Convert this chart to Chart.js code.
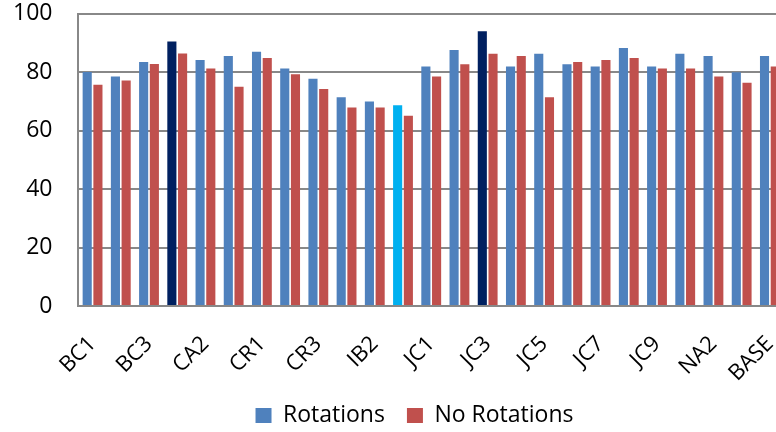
<!DOCTYPE html>
<html>
<head>
<meta charset="utf-8">
<script src="https://cdn.jsdelivr.net/npm/chart.js@4.4.1/dist/chart.umd.min.js"></script>
<style>
  html, body { margin: 0; padding: 0; background: #fff; overflow: hidden; }
  canvas { display: block; }
</style>
</head>
<body>
<canvas id="chart1" width="800" height="437"></canvas>
<script>
// categories (only every other one is labelled on the axis)
const categorias = ['BC1', 'BC2', 'BC3', 'CA1', 'CA2', 'CA3', 'CR1', 'CR2', 'CR3',
    'IB1', 'IB2', 'IB3', 'JC1', 'JC2', 'JC3', 'JC4', 'JC5', 'JC6', 'JC7', 'JC8', 'JC9',
    'NA1', 'NA2', 'NA3', 'BASE'];

const rotations = [80.1, 78.5, 83.5, 90.5, 84.2, 85.6, 87.0, 81.3, 77.8,
    71.4, 70.0, 68.7, 82.0, 87.6, 94.0, 82.0, 86.3, 82.7, 82.0, 88.3, 82.0,
    86.3, 85.6, 80.0, 85.6];

const noRotations = [75.7, 77.2, 82.8, 86.4, 81.3, 75.0, 84.9, 79.3, 74.3,
    67.9, 67.9, 65.1, 78.5, 82.7, 86.3, 85.6, 71.4, 83.5, 84.2, 84.9, 81.3,
    81.3, 78.5, 76.4, 82.0];

const yTicks = [0, 20, 40, 60, 80, 100];

// bars drawn in a different colour
const destaque = { CA1: '#002060', JC3: '#002060', IB3: '#00B0F0' };
const corAzul = '#4F81BD';
const corVermelho = '#C0504D';
const fonte = "'Open Sans', sans-serif";
const padTicks = 26;

// nudges the legend to the right, it is centred on the wider original chart
const moverLegenda = {
    id: 'moverLegenda',
    afterLayout(chart) {
        chart.legend.left += 16;
        chart.legend.right += 16;
    }
};

var ctx1 = document.getElementById('chart1').getContext('2d');
var chart1 = new Chart(ctx1, {
    type: 'bar',
    data: {
        labels: categorias,
        datasets: [{
            label: 'Rotations',
            data: rotations,
            backgroundColor: categorias.map(c => destaque[c] || corAzul),
            barPercentage: 0.85,
            categoryPercentage: 0.76
        }, {
            label: 'No Rotations',
            data: noRotations,
            backgroundColor: corVermelho,
            barPercentage: 0.85,
            categoryPercentage: 0.76
        }]
    },
    options: {
        responsive: false,
        animation: false,
        layout: { padding: { left: 13, top: 1, right: 16, bottom: 0 } },
        plugins: {
            legend: {
                position: 'bottom',
                labels: {
                    generateLabels: chart => chart.data.datasets.map((ds, i) => ({
                        text: ds.label,
                        fillStyle: i === 0 ? corAzul : corVermelho,
                        strokeStyle: i === 0 ? corAzul : corVermelho,
                        lineWidth: 0,
                        datasetIndex: i
                    })),
                    boxWidth: 16,
                    boxHeight: 15,
                    padding: 22,
                    color: '#000',
                    font: { family: fonte, size: 23 }
                }
            },
            tooltip: { enabled: false }
        },
        scales: {
            x: {
                grid: { display: false, drawTicks: false },
                border: { display: true, color: '#888888', width: 2 },
                afterFit: scale => {
                    scale.paddingLeft = 0;
                    scale.paddingRight = 0;
                    scale.height = 76;
                },
                ticks: {
                    autoSkip: false,
                    maxRotation: 45,
                    minRotation: 45,
                    padding: 25,
                    color: '#000',
                    font: { family: fonte, size: 22 },
                    callback: function (value, index) {
                        return index % 2 === 0 ? categorias[index] : '';
                    }
                }
            },
            y: {
                min: 0,
                max: 100,
                afterBuildTicks: scale => { scale.ticks = yTicks.map(v => ({ value: v })); },
                afterFit: scale => {
                    scale.width -= padTicks;
                    scale.paddingTop -= padTicks;
                    scale.paddingBottom -= padTicks;
                },
                grid: { color: '#888888', lineWidth: 2, drawTicks: false },
                border: { display: true, color: '#888888', width: 2 },
                ticks: {
                    padding: padTicks,
                    color: '#000',
                    font: { family: fonte, size: 23 }
                }
            }
        }
    },
    plugins: [moverLegenda]
});
</script>
</body>
</html>
